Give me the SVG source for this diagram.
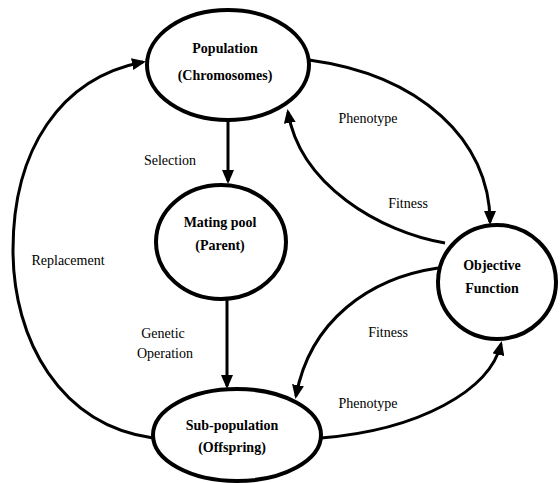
<svg xmlns="http://www.w3.org/2000/svg" width="560" height="483" viewBox="0 0 560 483">
<style>
.node{fill:#fff;stroke:#000;stroke-width:4}
.nl{font-family:"Liberation Serif",serif;font-weight:bold;font-size:14px;text-anchor:middle;fill:#000}
.el{font-family:"Liberation Serif",serif;font-size:14px;text-anchor:middle;fill:#000}
.c{fill:none;stroke:#000;stroke-width:3;marker-end:url(#ah)}
</style>
<defs>
<marker id="ah" markerUnits="userSpaceOnUse" markerWidth="14" markerHeight="12" refX="11" refY="6" orient="auto">
<path d="M0,0 L14,6 L0,12 z" fill="#000"/>
</marker>
</defs>
<rect width="560" height="483" fill="#fff"/>
<g id="connectors">
<path class="c" d="M228,121 L228,181"/>
<path class="c" d="M227,300 L227,386"/>
<path class="c" d="M153,438 C60,425 13,340 13,250 C13,150 60,78 143,62"/>
<path class="c" d="M309,60 C420,75 490,140 490,222"/>
<path class="c" d="M445,243 C380,232 300,185 288,112"/>
<path class="c" d="M438,268 C370,278 310,320 296,396"/>
<path class="c" d="M321,438 C420,430 490,390 501,344"/>
</g>
<g id="population">
<ellipse class="node" cx="228" cy="65" rx="81" ry="55"/>
<text class="nl" x="225" y="53">Population</text>
<text class="nl" x="225" y="80">(Chromosomes)</text>
</g>
<g id="mating-pool">
<ellipse class="node" cx="221" cy="242" rx="65" ry="57"/>
<text class="nl" x="220" y="227">Mating pool</text>
<text class="nl" x="220" y="250">(Parent)</text>
</g>
<g id="sub-population">
<ellipse class="node" cx="237" cy="435" rx="84" ry="46"/>
<text class="nl" x="232" y="430">Sub-population</text>
<text class="nl" x="232" y="452">(Offspring)</text>
</g>
<g id="objective-function">
<ellipse class="node" cx="497" cy="282" rx="59" ry="57"/>
<text class="nl" x="492" y="270">Objective</text>
<text class="nl" x="492" y="293">Function</text>
</g>
<g id="labels">
<text class="el" x="170" y="165">Selection</text>
<text class="el" x="68" y="265">Replacement</text>
<text class="el" x="163" y="338">Genetic</text>
<text class="el" x="165" y="358">Operation</text>
<text class="el" x="368" y="123">Phenotype</text>
<text class="el" x="408" y="208">Fitness</text>
<text class="el" x="388" y="337">Fitness</text>
<text class="el" x="368" y="408">Phenotype</text>
</g>
</svg>
